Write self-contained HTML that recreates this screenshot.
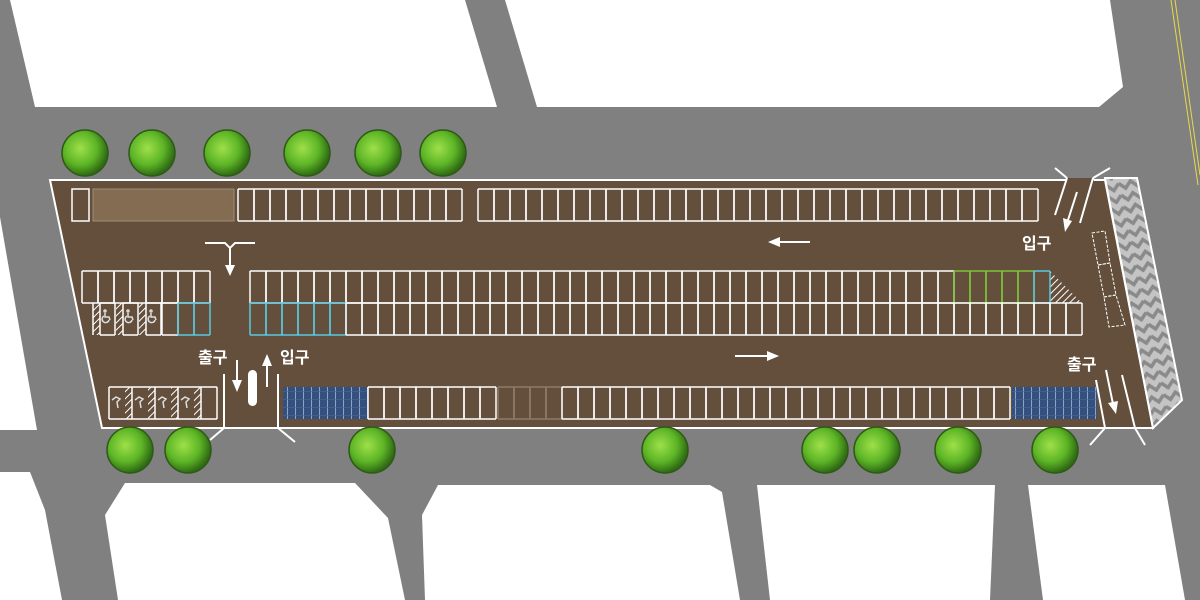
<!DOCTYPE html>
<html><head><meta charset="utf-8"><style>
html,body{margin:0;padding:0;background:#808080}
svg{display:block}
text{font-family:"Liberation Sans","Noto Sans CJK KR",sans-serif;font-weight:bold;fill:#fff;font-size:16px}
</style></head><body>
<svg id="s" width="1200" height="600" viewBox="0 0 1200 600" xmlns="http://www.w3.org/2000/svg">
<defs>
<pattern id="hat" width="5" height="5" patternUnits="userSpaceOnUse" patternTransform="rotate(45)"><rect width="5" height="5" fill="#634f3b"/><line x1="0" y1="0" x2="0" y2="5" stroke="#fff" stroke-width="2"/></pattern>
<pattern id="zig" width="24" height="24" patternUnits="userSpaceOnUse" patternTransform="rotate(-12)"><rect width="24" height="24" fill="#c4c4c4"/><path d="M0 4 L6 10 L12 4 L18 10 L24 4 M0 16 L6 22 L12 16 L18 22 L24 16" stroke="#8a8a8a" stroke-width="3.5" fill="none"/></pattern>
<pattern id="sol" width="8" height="8" patternUnits="userSpaceOnUse"><rect width="8" height="8" fill="#34507f"/><line x1="7.5" y1="0" x2="7.5" y2="8" stroke="#8fa3c4" stroke-width="1"/><line x1="0" y1="7.5" x2="8" y2="7.5" stroke="#4c6590" stroke-width="0.6"/></pattern>
<radialGradient id="tree" cx="40%" cy="40%" r="60%"><stop offset="0" stop-color="#9ee04a"/><stop offset="0.6" stop-color="#5db526"/><stop offset="1" stop-color="#2f6a14"/></radialGradient>
</defs>
<rect width="1200" height="600" fill="#808080"/>
<g fill="#fff">
<polygon points="10,0 465,0 497,107 35,107"/>
<polygon points="505,0 1110,0 1123,87 1099,107 537,107"/>
<polygon points="0,217 37,430 0,430"/>
<polygon points="0,472 30,472 45,510 62,600 0,600"/>
<polygon points="105,515 125,483 355,483 388,518 405,600 118,600"/>
<polygon points="422,515 438,485 710,485 722,492 740,600 425,600"/>
<polygon points="757,485 995,485 990,600 770,600"/>
<polygon points="1028,485 1165,485 1185,600 1043,600"/>
</g>
<line x1="1171" y1="0" x2="1198" y2="185" stroke="#e8d84a" stroke-width="1"/>
<line x1="1175" y1="0" x2="1200" y2="175" stroke="#e8d84a" stroke-width="1"/>
<polygon points="50,180 1105,180 1153,428 102,428" fill="#634f3b" stroke="#fff" stroke-width="2"/>
<polygon points="1067,178 1093,178 1100,200 1067,200" fill="#634f3b"/>
<polygon points="1105,178 1137,178 1182,400 1153,428" fill="url(#zig)" stroke="#fff" stroke-width="2"/>
<rect x="93" y="189" width="141" height="32" fill="#836c52" stroke="#a08c74" stroke-width="1"/>
<rect x="72" y="189" width="17" height="32" fill="none" stroke="#fff" stroke-width="1.5"/>
<rect x="283" y="387" width="85" height="32" fill="url(#sol)"/>
<rect x="1012" y="387" width="85" height="32" fill="url(#sol)"/>
<rect x="93" y="303" width="7" height="32" fill="url(#hat)"/>
<rect x="116" y="303" width="7" height="32" fill="url(#hat)"/>
<rect x="139" y="303" width="7" height="32" fill="url(#hat)"/>
<rect x="125" y="387" width="7" height="32" fill="url(#hat)"/>
<rect x="148" y="387" width="7" height="32" fill="url(#hat)"/>
<rect x="171" y="387" width="7" height="32" fill="url(#hat)"/>
<rect x="194" y="387" width="7" height="32" fill="url(#hat)"/>
<polygon points="1050,271 1050,303 1082,303" fill="url(#hat)"/>
<g id="st" fill="none" stroke="#fff" stroke-width="1.5"></g>
<g stroke="#ddd" stroke-width="1.5" fill="none">
<g transform="translate(103,312)"><circle cx="2" cy="-1" r="1"/><path d="M2 1 v4 h4 l1 3"/><path d="M1 4 a3.5 3.5 0 1 0 5 4"/></g>
<g transform="translate(126,312)"><circle cx="2" cy="-1" r="1"/><path d="M2 1 v4 h4 l1 3"/><path d="M1 4 a3.5 3.5 0 1 0 5 4"/></g>
<g transform="translate(149,312)"><circle cx="2" cy="-1" r="1"/><path d="M2 1 v4 h4 l1 3"/><path d="M1 4 a3.5 3.5 0 1 0 5 4"/></g>
<path d="M112 400 l4 -3 l4 2 l-3 3 l1 6 M135 400 l4 -3 l4 2 l-3 3 l1 6 M158 400 l4 -3 l4 2 l-3 3 l1 6 M181 400 l4 -3 l4 2 l-3 3 l1 6"/>
</g>
<g stroke="#fff" stroke-width="2" fill="none">
<line x1="224" y1="374" x2="224" y2="428"/><line x1="278" y1="374" x2="278" y2="428"/>
<line x1="224" y1="428" x2="210" y2="440"/><line x1="278" y1="428" x2="295" y2="442"/>
<path d="M205 243 H225 L230 248 L235 243 H255 M230 248 V265"/>
<line x1="237" y1="360" x2="237" y2="382"/><line x1="267" y1="387" x2="267" y2="364"/>
<line x1="780" y1="242" x2="810" y2="242"/><line x1="735" y1="356" x2="767" y2="356"/>
<line x1="1055" y1="215" x2="1067" y2="178"/><line x1="1080" y1="223" x2="1093" y2="178"/>
<line x1="1077" y1="192" x2="1068" y2="220"/>
<line x1="1067" y1="178" x2="1055" y2="168"/><line x1="1093" y1="178" x2="1110" y2="168"/>
<line x1="1096" y1="380" x2="1105" y2="428"/><line x1="1122" y1="375" x2="1135" y2="428"/>
<line x1="1106" y1="370" x2="1113" y2="404"/>
<line x1="1105" y1="428" x2="1090" y2="445"/><line x1="1135" y1="428" x2="1145" y2="445"/>
</g>
<g fill="#fff">
<polygon points="225,265 235,265 230,276"/>
<polygon points="232,380 242,380 237,392"/>
<polygon points="262,366 272,366 267,354"/>
<polygon points="780,237 780,247 768,242"/>
<polygon points="767,351 767,361 779,356"/>
<polygon points="1063,218 1072,221 1065,232"/>
<polygon points="1108,403 1118,401 1116,414"/>
<rect x="248" y="370" width="9" height="36" rx="4.5"/>
</g>
<g fill="none" stroke="#fff" stroke-width="1" stroke-dasharray="3,1.5">
<polygon points="1092,233 1105,231 1110,263 1098,265"/>
<polygon points="1098,265 1110,263 1116,295 1104,297"/>
<polygon points="1104,297 1116,295 1125,325 1109,327"/>
</g>
<text x="198" y="363">출구</text>
<text x="280" y="363">입구</text>
<text x="1022" y="249">입구</text>
<text x="1067" y="370">출구</text>
<g id="tr"></g>
</svg>
<script>
var st=document.getElementById('st'),ns='http://www.w3.org/2000/svg';
function ln(x1,y1,x2,y2,c){var l=document.createElementNS(ns,'line');l.setAttribute('x1',x1);l.setAttribute('y1',y1);l.setAttribute('x2',x2);l.setAttribute('y2',y2);if(c)l.setAttribute('stroke',c);st.appendChild(l);}
function row(x0,n,w,y,h,colf){for(var i=0;i<n;i++){var x=x0+i*w;var c=colf?colf(x):null;ln(x,y,x,y+h,c);ln(x,y,x+w,y,c);ln(x,y+h,x+w,y+h,c);ln(x+w,y,x+w,y+h,c);}}
row(238,14,16,189,32);
row(478,35,16,189,32);
row(82,8,16,271,32);
row(250,50,16,271,32,function(x){return x>=1034?'#5bc8e0':(x>=954?'#7cc43a':null);});
row(162,3,16,303,32,function(x){return x>=178?'#5bc8e0':null;});
[100,123,146].forEach(function(x){row(x,1,15,303,32);});
ln(93,303,93,335);
row(250,52,16,303,32,function(x){return x<346?'#5bc8e0':null;});
row(109,1,108,387,32);
[132,155,178].forEach(function(x){ln(x,387,x,419);});ln(201,387,201,419);
row(368,8,16,387,32);
row(498,4,16,387,32,function(){return '#8e7c68';});
row(562,28,16,387,32);
var tr=document.getElementById('tr');
[[85,153],[152,153],[227,153],[307,153],[378,153],[443,153],[130,450],[188,450],[372,450],[665,450],[825,450],[877,450],[958,450],[1055,450]].forEach(function(p){
var c=document.createElementNS(ns,'circle');c.setAttribute('cx',p[0]);c.setAttribute('cy',p[1]);c.setAttribute('r',23);c.setAttribute('fill','url(#tree)');c.setAttribute('stroke','#2e5a16');c.setAttribute('stroke-width','1.5');tr.appendChild(c);});
</script>
</body></html>
